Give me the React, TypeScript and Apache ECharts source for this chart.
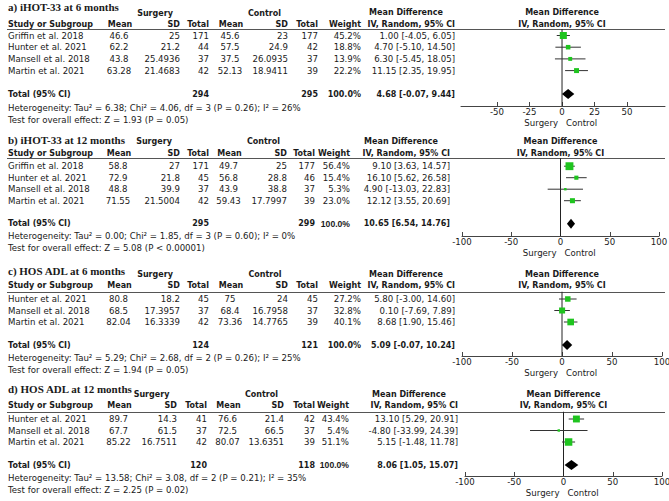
import React, { useEffect, useRef } from "react";
import * as echarts from "echarts";

// ---------- Panel a: iHOT-33 at 6 months ----------
const studiesA = ["Griffin et al. 2018", "Hunter et al. 2021", "Mansell et al. 2018", "Martin et al. 2021"];
const surgMeanA = [46.6, 62.2, 43.8, 63.28];
const surgSdA = [25, 21.2, 25.4936, 21.4683];
const surgNA = [171, 44, 37, 42];
const ctrlMeanA = [45.6, 57.5, 37.5, 52.13];
const ctrlSdA = [23, 24.9, 26.0935, 18.9411];
const ctrlNA = [177, 42, 37, 39];
const weightA = [45.2, 18.8, 13.9, 22.2];
const mdA = [1.0, 4.7, 6.3, 11.15];
const loA = [-4.05, -5.1, -5.45, 2.35];
const hiA = [6.05, 14.5, 18.05, 19.95];
const totalA = [4.68, -0.07, 9.44];
const totalNA = [294, 295];
const totalWA = 100.0;
const hetA = ["6.38", "4.06", "3", "0.26", "26"];
const testA = ["1.93", "= 0.05"];
const ticksA = [-50, -25, 0, 25, 50];

// ---------- Panel b: iHOT-33 at 12 months ----------
const studiesB = ["Griffin et al. 2018", "Hunter et al. 2021", "Mansell et al. 2018", "Martin et al. 2021"];
const surgMeanB = [58.8, 72.9, 48.8, 71.55];
const surgSdB = [27, 21.8, 39.9, 21.5004];
const surgNB = [171, 45, 37, 42];
const ctrlMeanB = [49.7, 56.8, 43.9, 59.43];
const ctrlSdB = [25, 28.8, 38.8, 17.7997];
const ctrlNB = [177, 46, 37, 39];
const weightB = [56.4, 15.4, 5.3, 23.0];
const mdB = [9.1, 16.1, 4.9, 12.12];
const loB = [3.63, 5.62, -13.03, 3.55];
const hiB = [14.57, 26.58, 22.83, 20.69];
const totalB = [10.65, 6.54, 14.76];
const totalNB = [295, 299];
const totalWB = 100.0;
const hetB = ["0.00", "1.85", "3", "0.60", "0"];
const testB = ["5.08", "< 0.00001"];
const ticksB = [-100, -50, 0, 50, 100];

// ---------- Panel c: HOS ADL at 6 months ----------
const studiesC = ["Hunter et al. 2021", "Mansell et al. 2018", "Martin et al. 2021"];
const surgMeanC = [80.8, 68.5, 82.04];
const surgSdC = [18.2, 17.3957, 16.3339];
const surgNC = [45, 37, 42];
const ctrlMeanC = [75, 68.4, 73.36];
const ctrlSdC = [24, 16.7958, 14.7765];
const ctrlNC = [45, 37, 39];
const weightC = [27.2, 32.8, 40.1];
const mdC = [5.8, 0.1, 8.68];
const loC = [-3.0, -7.69, 1.9];
const hiC = [14.6, 7.89, 15.46];
const totalC = [5.09, -0.07, 10.24];
const totalNC = [124, 121];
const totalWC = 100.0;
const hetC = ["5.29", "2.68", "2", "0.26", "25"];
const testC = ["1.94", "= 0.05"];
const ticksC = [-100, -50, 0, 50, 100];

// ---------- Panel d: HOS ADL at 12 months ----------
const studiesD = ["Hunter et al. 2021", "Mansell et al. 2018", "Martin et al. 2021"];
const surgMeanD = [89.7, 67.7, 85.22];
const surgSdD = [14.3, 61.5, 16.7511];
const surgND = [41, 37, 42];
const ctrlMeanD = [76.6, 72.5, 80.07];
const ctrlSdD = [21.4, 66.5, 13.6351];
const ctrlND = [42, 37, 39];
const weightD = [43.4, 5.4, 51.1];
const mdD = [13.1, -4.8, 5.15];
const loD = [5.29, -33.99, -1.48];
const hiD = [20.91, 24.39, 11.78];
const totalD = [8.06, 1.05, 15.07];
const totalND = [120, 118];
const totalWD = 100.0;
const hetD = ["13.58", "3.08", "2", "0.21", "35"];
const testD = ["2.25", "= 0.02"];
const ticksD = [-100, -50, 0, 50, 100];

const titles = ["a) iHOT-33 at 6 months", "b) iHOT-33 at 12 months", "c) HOS ADL at 6 months", "d) HOS ADL at 12 months"];

const FAM = '"DejaVu Sans", sans-serif';
const REG = `8.6px ${FAM}`;
const BOLD = `bold 8px ${FAM}`;
const BOLD_NARROW = 'bold 8.6px "Liberation Sans", Arial, sans-serif';
const TITLE = 'bold 11px "Liberation Serif", serif';
const INK = "#1a1a1a";
const GREEN = "#1fc41f";

// layout (pixel positions)
const layouts = [
  { title: 7, group: 13, mdHead: 12, head: 24, line: 29, row0: 35.5, step: 11.7, het: 108, test: 120, axis: 106, axisL: 461, axisR: 665, min: -77.7, max: 79.2, cols: [119, 180, 209, 230, 288, 318, 361, 455], surg: 155, ctrl: 264.5, wFont: BOLD },
  { title: 139.5, group: 141.5, mdHead: 141.5, head: 153.5, line: 158.3, row0: 166.2, step: 11.5, het: 236, test: 248, axis: 236, axisL: 462, axisR: 659, min: -100, max: 100, cols: [118, 180, 209, 228.5, 287, 315, 350, 450], surg: 154, ctrl: 263.5, wFont: BOLD_NARROW },
  { title: 270.7, group: 274.5, mdHead: 274.5, head: 285.7, line: 291.7, row0: 299, step: 11.5, het: 358, test: 370, axis: 356, axisL: 462, axisR: 662, min: -100, max: 100, cols: [118.5, 180, 209, 230, 288, 318, 361, 455], surg: 155, ctrl: 265, wFont: BOLD },
  { title: 389, group: 394, mdHead: 394, head: 405.7, line: 411.7, row0: 419, step: 11.5, het: 478, test: 490, axis: 476, axisL: 465, axisR: 662, min: -100, max: 100, cols: [118.5, 177, 207, 227.5, 284, 315, 349, 458], surg: 151.5, ctrl: 261.5, wFont: BOLD_NARROW },
];

const panels = [
  { studies: studiesA, sm: surgMeanA, ss: surgSdA, sn: surgNA, cm: ctrlMeanA, cs: ctrlSdA, cn: ctrlNA, w: weightA, md: mdA, lo: loA, hi: hiA, tot: totalA, totN: totalNA, totW: totalWA, het: hetA, test: testA, ticks: ticksA },
  { studies: studiesB, sm: surgMeanB, ss: surgSdB, sn: surgNB, cm: ctrlMeanB, cs: ctrlSdB, cn: ctrlNB, w: weightB, md: mdB, lo: loB, hi: hiB, tot: totalB, totN: totalNB, totW: totalWB, het: hetB, test: testB, ticks: ticksB },
  { studies: studiesC, sm: surgMeanC, ss: surgSdC, sn: surgNC, cm: ctrlMeanC, cs: ctrlSdC, cn: ctrlNC, w: weightC, md: mdC, lo: loC, hi: hiC, tot: totalC, totN: totalNC, totW: totalWC, het: hetC, test: testC, ticks: ticksC },
  { studies: studiesD, sm: surgMeanD, ss: surgSdD, sn: surgND, cm: ctrlMeanD, cs: ctrlSdD, cn: ctrlND, w: weightD, md: mdD, lo: loD, hi: hiD, tot: totalD, totN: totalND, totW: totalWD, het: hetD, test: testD, ticks: ticksD },
];

const txt = (text: string, x: number, y: number, align: string, font: string) => ({
  type: "text",
  x,
  y,
  silent: true,
  style: { text, font, fill: INK, align, verticalAlign: "middle", textAlign: align, textVerticalAlign: "middle" },
});

const fmtMD = (m: number, l: number, h: number) => `${m.toFixed(2)} [${l.toFixed(2)}, ${h.toFixed(2)}]`;

export default function App() {
  const ref = useRef<HTMLDivElement>(null);
  useEffect(() => {
    document.body.style.margin = "0";
    const chart = echarts.init(ref.current!, null, { renderer: "svg" });
    const grids: any[] = [];
    const xAxes: any[] = [];
    const yAxes: any[] = [];
    const series: any[] = [];
    const graphics: any[] = [];

    panels.forEach((p, k) => {
      const L = layouts[k];
      const n = p.studies.length;
      const totalIdx = n + 1;
      const width = L.axisR - L.axisL;
      const zeroPx = L.axisL + ((0 - L.min) / (L.max - L.min)) * width;
      const yMin = (L.line - L.row0) / L.step;
      const yMax = (L.axis - L.row0) / L.step;
      const c = L.cols;

      grids.push({ left: L.axisL, top: L.line, width, height: L.axis - L.line, containLabel: false, outerBoundsMode: "none" });
      xAxes.push({
        type: "value",
        gridIndex: k,
        min: L.min,
        max: L.max,
        splitLine: { show: false },
        axisLine: { show: true, onZero: false, lineStyle: { color: "#444", width: 1 } },
        axisTick: { show: true, inside: true, length: 4, customValues: p.ticks, lineStyle: { color: "#444" } },
        axisLabel: { show: true, customValues: p.ticks, margin: 1.5, fontSize: 8.6, fontFamily: FAM, color: INK, hideOverlap: false },
      });
      yAxes.push({ type: "value", gridIndex: k, min: yMin, max: yMax, inverse: true, show: false });

      // zero line
      series.push({
        type: "line",
        xAxisIndex: k,
        yAxisIndex: k,
        data: [[0, yMin], [0, yMax]],
        showSymbol: false,
        silent: true,
        lineStyle: { color: "#222", width: 1 },
        z: 1,
      });
      // study CIs and squares
      series.push({
        type: "custom",
        xAxisIndex: k,
        yAxisIndex: k,
        silent: true,
        z: 3,
        data: p.md.map((m, i) => [m, p.lo[i], p.hi[i], i, p.w[i]]),
        renderItem: (params: any, api: any) => {
          const y = api.value(3);
          const pt = api.coord([api.value(0), y]);
          const a = api.coord([api.value(1), y]);
          const b = api.coord([api.value(2), y]);
          const side = 1.05 * Math.sqrt(api.value(4));
          return {
            type: "group",
            children: [
              { type: "line", shape: { x1: a[0], y1: a[1], x2: b[0], y2: b[1] }, style: { stroke: "#333", lineWidth: 1 } },
              { type: "rect", shape: { x: pt[0] - side / 2, y: pt[1] - side / 2, width: side, height: side }, style: { fill: GREEN } },
            ],
          };
        },
      });
      // pooled diamond
      series.push({
        type: "custom",
        xAxisIndex: k,
        yAxisIndex: k,
        silent: true,
        z: 4,
        data: [[p.tot[0], p.tot[1], p.tot[2], totalIdx]],
        renderItem: (params: any, api: any) => {
          const y = api.value(3);
          const m = api.coord([api.value(0), y]);
          const a = api.coord([api.value(1), y]);
          const b = api.coord([api.value(2), y]);
          const h = 5;
          return {
            type: "polygon",
            shape: { points: [[a[0], a[1]], [m[0], m[1] - h], [b[0], b[1]], [m[0], m[1] + h]] },
            style: { fill: "#000" },
          };
        },
      });

      // table texts
      graphics.push(txt(titles[k], 8, L.title, "left", TITLE));
      graphics.push(txt("Surgery", L.surg, L.group, "center", BOLD));
      graphics.push(txt("Control", L.ctrl, L.group, "center", BOLD));
      graphics.push(txt("Mean Difference", c[7] - 49, L.mdHead, "center", BOLD));
      graphics.push(txt("Mean Difference", zeroPx, L.mdHead, "center", BOLD));
      graphics.push(txt("Study or Subgroup", 8, L.head, "left", BOLD));
      graphics.push(txt("Mean", c[0] + 1, L.head, "center", BOLD));
      graphics.push(txt("SD", c[1], L.head, "right", BOLD));
      graphics.push(txt("Total", c[2], L.head, "right", BOLD));
      graphics.push(txt("Mean", c[3] + 1, L.head, "center", BOLD));
      graphics.push(txt("SD", c[4], L.head, "right", BOLD));
      graphics.push(txt("Total", c[5], L.head, "right", BOLD));
      graphics.push(txt("Weight", c[6], L.head, "right", BOLD));
      graphics.push(txt("IV, Random, 95% CI", c[7], L.head, "right", BOLD));
      graphics.push(txt("IV, Random, 95% CI", zeroPx, L.head, "center", BOLD));
      const ly = Math.round(L.line) + 0.5;
      graphics.push({ type: "line", silent: true, shape: { x1: 7, y1: ly, x2: 665, y2: ly }, style: { stroke: "#555", lineWidth: 1 } });

      p.studies.forEach((s, i) => {
        const y = L.row0 + L.step * i;
        graphics.push(txt(s, 8, y, "left", REG));
        graphics.push(txt(String(p.sm[i]), c[0], y, "center", REG));
        graphics.push(txt(String(p.ss[i]), c[1], y, "right", REG));
        graphics.push(txt(String(p.sn[i]), c[2], y, "right", REG));
        graphics.push(txt(String(p.cm[i]), c[3], y, "center", REG));
        graphics.push(txt(String(p.cs[i]), c[4], y, "right", REG));
        graphics.push(txt(String(p.cn[i]), c[5], y, "right", REG));
        graphics.push(txt(p.w[i].toFixed(1) + "%", c[6], y, "right", REG));
        graphics.push(txt(fmtMD(p.md[i], p.lo[i], p.hi[i]), c[7], y, "right", REG));
      });
      const ty = L.row0 + L.step * totalIdx;
      graphics.push(txt("Total (95% CI)", 8, ty, "left", BOLD));
      graphics.push(txt(String(p.totN[0]), c[2], ty, "right", BOLD));
      graphics.push(txt(String(p.totN[1]), c[5], ty, "right", BOLD));
      graphics.push(txt(p.totW.toFixed(1) + "%", c[6], ty, "right", L.wFont));
      graphics.push(txt(fmtMD(p.tot[0], p.tot[1], p.tot[2]), c[7], ty, "right", BOLD));
      graphics.push(
        txt(`Heterogeneity: Tau\u00b2 = ${p.het[0]}; Chi\u00b2 = ${p.het[1]}, df = ${p.het[2]} (P = ${p.het[3]}); I\u00b2 = ${p.het[4]}%`, 8, L.het, "left", REG)
      );
      graphics.push(txt(`Test for overall effect: Z = ${p.test[0]} (P ${p.test[1]})`, 8, L.test, "left", REG));
      graphics.push(txt("Surgery", zeroPx - 4, L.axis + 16.5, "right", REG));
      graphics.push(txt("Control", zeroPx + 4, L.axis + 16.5, "left", REG));
    });

    chart.setOption({
      animation: false,
      backgroundColor: "#ffffff",
      grid: grids,
      xAxis: xAxes,
      yAxis: yAxes,
      series,
      graphic: { elements: graphics },
    });
    return () => chart.dispose();
  }, []);
  return <div ref={ref} style={{ width: 669, height: 501 }} />;
}
